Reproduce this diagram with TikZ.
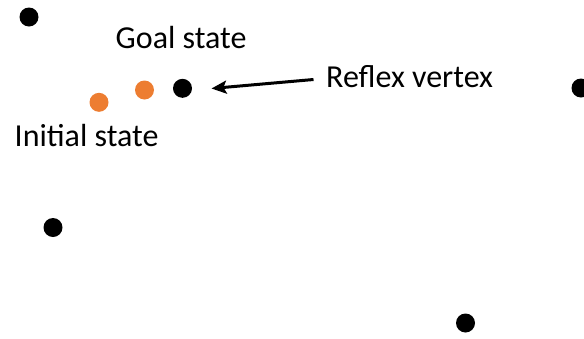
\documentclass[tikz,border=0pt]{standalone}
\usepackage{fontspec}
\setmainfont{Carlito}
\usetikzlibrary{arrows.meta}
\definecolor{dotorange}{HTML}{ED7D31}
\begin{document}
\begin{tikzpicture}[x=1pt,y=-1pt,
  vtx/.style={circle,fill=black,inner sep=0pt,minimum size=19pt},
  ovtx/.style={circle,fill=dotorange,inner sep=0pt,minimum size=19pt},
  lbl/.style={anchor=base west,inner sep=0pt,font=\fontsize{32}{38}\selectfont},
  ptr/.style={line width=3pt,-{Stealth[length=15pt,width=13pt,inset=3pt]}}]
\path[use as bounding box] (0,0) rectangle (584,338);
\node[vtx] (v1) at (29,17) {};
\node[vtx] (goal) at (182.5,88.3) {};
\node[vtx] (v3) at (581,88) {};
\node[vtx] (v4) at (53,227.5) {};
\node[vtx] (v5) at (465.5,323) {};
\node[ovtx] (o1) at (144.5,90) {};
\node[ovtx] (o2) at (99,102.3) {};
\node[lbl] (gl) at (115.5,48.3) {Goal state};
\node[lbl] (il) at (14.5,146.7) {Initial state};
\node[lbl] (rl) at (326,87.7) {Reflex vertex};
\coordinate (as) at (313.5,79.5);
\coordinate (ae) at (211.5,88.5);
\draw[ptr] (as) -- (ae);
\end{tikzpicture}
\end{document}
